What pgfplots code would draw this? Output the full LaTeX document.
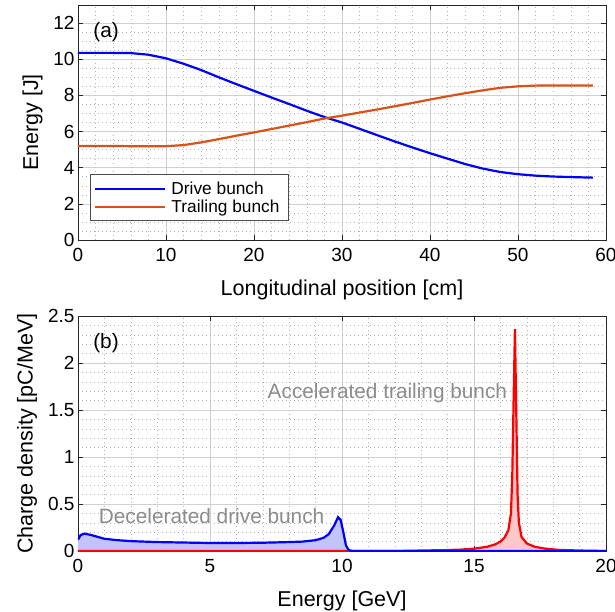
\documentclass[border=0pt]{standalone}
\usepackage{fontspec}
\setmainfont{Liberation Sans}
\usepackage{pgfplots}
\pgfplotsset{compat=1.18}

\definecolor{mlorange}{rgb}{0.85,0.325,0.098}
\definecolor{bluefill}{RGB}{196,196,252}
\definecolor{redfill}{RGB}{255,200,200}

\pgfplotsset{
  panel/.style={
    scale only axis,width=528pt,height=235pt,
    axis line style={black!85,line width=0.6pt},
    tick align=inside,major tick length=5pt,minor tick length=0pt,
    tick style={black!85,line width=0.6pt},
    grid=both,
    major grid style={black!18,line width=0.6pt},
    minor grid style={black!30,line width=0.5pt,dash pattern=on 0.6pt off 3.4pt},
    ticklabel style={font=\fontsize{19}{22}\selectfont},
    xticklabel style={yshift=-5pt},
    label style={font=\fontsize{21.5}{24}\selectfont},
    xlabel style={yshift=-11pt},
    ylabel style={yshift=4pt},
    /pgf/number format/assume math mode=true,
    every axis plot/.append style={line width=2.2pt},
  }
}

\begin{document}
\begin{tikzpicture}
\begin{axis}[panel,at={(0,0)},anchor=south west,
  xmin=0,xmax=60,ymin=0,ymax=13,
  xtick={0,10,...,60},ytick={0,2,...,12},
  minor x tick num=4,minor y tick num=3,
  xlabel={Longitudinal position [cm]},ylabel={Energy [J]},
  legend style={at={(0.0227,0.081)},anchor=south west,draw=black!70,fill=white,
    font=\fontsize{17.3}{25}\selectfont,inner xsep=4pt,inner ysep=5pt,line width=0.6pt,
    nodes={inner xsep=5pt}},
  legend cell align=left,
  legend image code/.code={\draw[#1,line width=2.2pt] (0pt,0pt) -- (70pt,0pt);},
]
\addplot[draw=blue] coordinates {(0,10.35)(2,10.35)(4,10.35)(6,10.34)(8,10.25)(10,10.05)(12,9.75)(14,9.4)(16,9.0)(18,8.62)(20,8.25)(22,7.88)(24,7.52)(26,7.15)(28,6.8)(30,6.5)(32,6.15)(34,5.8)(36,5.45)(38,5.12)(40,4.8)(42,4.5)(44,4.2)(46,3.95)(48,3.76)(50,3.64)(52,3.56)(54,3.51)(56,3.48)(58.5,3.45)};
\addlegendentry{Drive bunch}
\addplot[draw=mlorange] coordinates {(0,5.2)(4,5.2)(8,5.18)(10,5.19)(12,5.25)(14,5.4)(16,5.58)(18,5.77)(20,5.95)(22,6.14)(24,6.33)(26,6.52)(28,6.72)(30,6.88)(32,7.05)(34,7.22)(36,7.4)(38,7.58)(40,7.77)(42,7.95)(44,8.12)(46,8.28)(48,8.42)(50,8.5)(52,8.54)(54,8.55)(58.5,8.55)};
\addlegendentry{Trailing bunch}
\node[font=\fontsize{20.8}{24}\selectfont] at (axis cs:3.2,11.5) {(a)};
\end{axis}

\begin{axis}[panel,at={(0,-311pt)},anchor=south west,
  xmin=0,xmax=20,ymin=0,ymax=2.5,
  xtick={0,5,...,20},ytick={0,0.5,...,2.5},
  yticklabels={0,0.5,1,1.5,2,2.5},
  minor x tick num=4,minor y tick num=4,
  xlabel={Energy [GeV]},ylabel={Charge density [pC/MeV]},
]
\addplot[draw=none,fill=bluefill] coordinates {(0,0.12)(0.1,0.17)(0.25,0.185)(0.5,0.17)(1,0.13)(1.5,0.115)(2,0.105)(3,0.095)(4,0.09)(5,0.085)(6,0.085)(7,0.088)(8,0.095)(8.5,0.1)(9,0.115)(9.3,0.14)(9.5,0.18)(9.7,0.27)(9.85,0.36)(9.95,0.33)(10.05,0.2)(10.15,0.06)(10.25,0.01)(10.4,0)(20,0)} \closedcycle;
\addplot[draw=none,fill=redfill] coordinates {(0,0)(12,0)(13,0.005)(14,0.01)(14.5,0.015)(15,0.025)(15.5,0.045)(15.8,0.07)(16,0.1)(16.15,0.14)(16.3,0.22)(16.4,0.4)(16.45,0.8)(16.5,1.6)(16.55,2.36)(16.6,1.5)(16.65,0.6)(16.7,0.3)(16.8,0.15)(17,0.08)(17.3,0.045)(17.7,0.025)(18.2,0.012)(19,0.005)(20,0)} \closedcycle;
\addplot[draw=red] coordinates {(0,0)(12,0)(13,0.005)(14,0.01)(14.5,0.015)(15,0.025)(15.5,0.045)(15.8,0.07)(16,0.1)(16.15,0.14)(16.3,0.22)(16.4,0.4)(16.45,0.8)(16.5,1.6)(16.55,2.36)(16.6,1.5)(16.65,0.6)(16.7,0.3)(16.8,0.15)(17,0.08)(17.3,0.045)(17.7,0.025)(18.2,0.012)(19,0.005)(20,0)};
\addplot[draw=blue] coordinates {(0,0.12)(0.1,0.17)(0.25,0.185)(0.5,0.17)(1,0.13)(1.5,0.115)(2,0.105)(3,0.095)(4,0.09)(5,0.085)(6,0.085)(7,0.088)(8,0.095)(8.5,0.1)(9,0.115)(9.3,0.14)(9.5,0.18)(9.7,0.27)(9.85,0.36)(9.95,0.33)(10.05,0.2)(10.15,0.06)(10.25,0.01)(10.4,0)(20,0)};
\node[font=\fontsize{20.8}{24}\selectfont] at (axis cs:1.06,2.21) {(b)};
\node[font=\fontsize{20.8}{24}\selectfont,text=black!45] at (axis cs:11.72,1.68) {Accelerated trailing bunch};
\node[font=\fontsize{20.8}{24}\selectfont,text=black!45] at (axis cs:5.06,0.37) {Decelerated drive bunch};
\end{axis}
\pgfresetboundingbox
\useasboundingbox (-78pt,-372pt) rectangle (537pt,240pt);
\end{tikzpicture}
\end{document}
